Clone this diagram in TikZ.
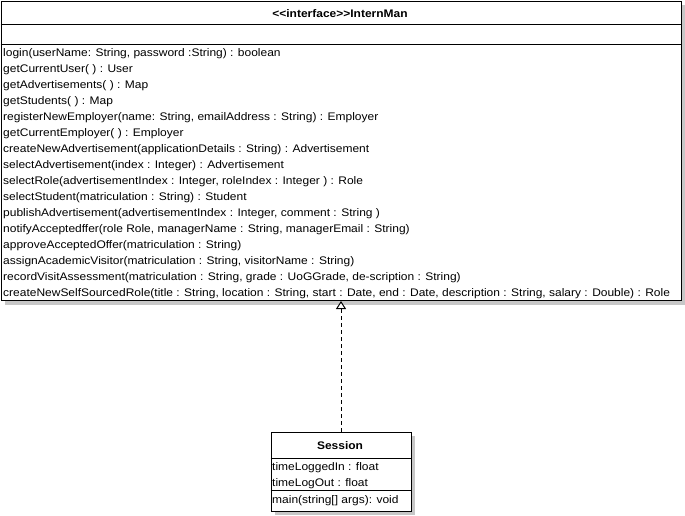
\documentclass[tikz,border=0pt]{standalone}
\usepackage{fontspec}
\setmainfont{Liberation Sans}[FakeStretch=1.09]
\usetikzlibrary{arrows.meta,shadows}
\begin{document}
\begin{tikzpicture}[
     x=1pt, y=-1pt,
     cls/.style={draw, line width=1pt, fill=white, anchor=north west, inner sep=0pt,
       general shadow={fill=black!22, shadow xshift=4pt, shadow yshift=-4pt}},
     sep/.style={line width=1pt},
     hd/.style={font=\fontsize{11}{16}\selectfont\bfseries, inner sep=0pt, anchor=base},
     op/.style={font=\fontsize{11}{16}\selectfont, inner sep=0pt, anchor=base west},
     realize/.style={line width=1pt, dash pattern=on 4pt off 3pt,
       -{Triangle[width=10pt, length=8pt, fill=white]}}
   ]
   \path[use as bounding box] (0,0) rectangle (685,515);
   % Interface.
   \node[cls, minimum width=680pt, minimum height=299.5pt] (intern) at (0.5,0.5) {};
   \node[hd] (internName) at (340,17) {<\kern0pt<interface>\kern0pt>InternMan};
   \draw[sep] (intern.west |- 0,24.5) -- (intern.east |- 0,24.5);
   \draw[sep] (intern.west |- 0,44.5) -- (intern.east |- 0,44.5);
   \foreach \m [count=\i from 0] in {
       {login(userName: String, password :String) : boolean},
       {getCurrentUser( ) : User},
       {getAdvertisements( ) : Map},
       {getStudents( ) : Map},
       {registerNewEmployer(name: String, emailAddress : String) : Employer},
       {getCurrentEmployer( ) : Employer},
       {createNewAdvertisement(applicationDetails : String) : Advertisement},
       {selectAdvertisement(index : Integer) : Advertisement},
       {selectRole(advertisementIndex : Integer, roleIndex : Integer ) : Role},
       {selectStudent(matriculation : String) : Student},
       {publishAdvertisement(advertisementIndex : Integer, comment : String )},
       {notifyAcceptedffer(role Role, managerName : String, managerEmail : String)},
       {approveAcceptedOffer(matriculation : String)},
       {assignAcademicVisitor(matriculation : String, visitorName : String)},
       {recordVisitAssessment(matriculation : String, grade : UoGGrade, de-scription : String)},
       {createNewSelfSourcedRole(title : String, location : String, start : Date, end : Date, description : String, salary : Double) : Role}}
     \node[op] (op\i) at (3,56+16*\i) {\m};
   % Implementing class.
   \node[cls, minimum width=140pt, minimum height=79pt] (session) at (270.5,431.5) {};
   \node[hd] (sessionName) at (340,449) {Session};
   \draw[sep] (session.west |- 0,458.5) -- (session.east |- 0,458.5);
   \draw[sep] (session.west |- 0,490.5) -- (session.east |- 0,490.5);
   \node[op] (loggedIn) at (272,470) {timeLoggedIn : float};
   \node[op] (logOut) at (272,486) {timeLogOut : float};
   \node[op] (main) at (272,503) {main(string[] args): void};
   \draw[realize] (session.north) -- (intern.south);
 \end{tikzpicture}
\end{document}
